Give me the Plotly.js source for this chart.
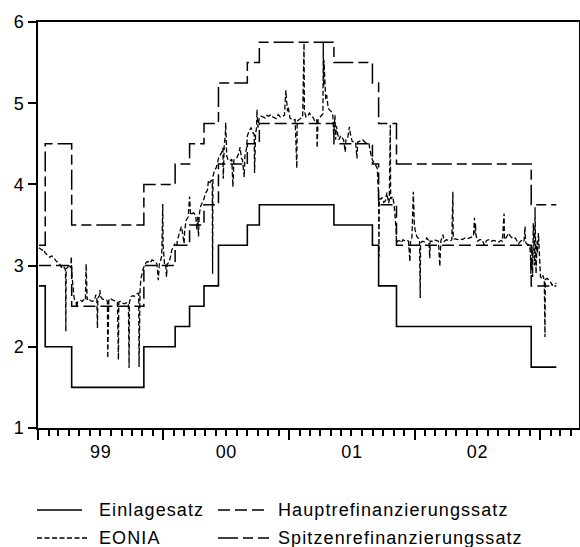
<!DOCTYPE html>
<html><head><meta charset="utf-8">
<script src="https://cdn.plot.ly/plotly-3.0.1.min.js"></script>
<style>
html,body{margin:0;padding:0;background:#fff;}
#chart{width:580px;height:547px;}
.annotation-text{letter-spacing:1.1px;}
.xtick text,.ytick text{letter-spacing:0.6px;}
</style></head><body><div id="chart"></div>
<script>
// ---- Data ----
var seriesNames = ["Einlagesatz", "Hauptrefinanzierungssatz", "EONIA", "Spitzenrefinanzierungssatz"];

var stepDates = ["1999-01-04","1999-01-22","1999-04-09","1999-11-05","2000-02-04","2000-03-17","2000-04-28","2000-06-09","2000-09-01","2000-10-06","2001-05-11","2001-08-31","2001-09-18","2001-11-09","2002-12-06","2003-02-17"];
var einlagesatz = [2.75,2.00,1.50,2.00,2.25,2.50,2.75,3.25,3.50,3.75,3.50,3.25,2.75,2.25,1.75,1.75];
var hauptrefi   = [3.00,3.00,2.50,3.00,3.25,3.50,3.75,4.25,4.50,4.75,4.50,4.25,3.75,3.25,2.75,2.75];
var spitzenrefi = [3.25,4.50,3.50,4.00,4.25,4.50,4.75,5.25,5.50,5.75,5.50,5.25,4.75,4.25,3.75,3.75];

var eoniaDates = [
"1999-01-04","1999-01-08","1999-01-13","1999-01-18","1999-01-21","1999-01-26","1999-02-01","1999-02-05","1999-02-10","1999-02-15","1999-02-19","1999-02-24",
"1999-03-01","1999-03-05","1999-03-10","1999-03-15","1999-03-19","1999-03-22","1999-03-23","1999-03-24","1999-03-29","1999-04-01","1999-04-06","1999-04-08",
"1999-04-09","1999-04-12","1999-04-14","1999-04-16","1999-04-20","1999-04-22","1999-04-23","1999-04-26","1999-04-30","1999-05-05","1999-05-10","1999-05-14",
"1999-05-19","1999-05-21","1999-05-24","1999-05-28","1999-06-02","1999-06-08","1999-06-14","1999-06-18","1999-06-21","1999-06-23","1999-06-24","1999-06-29",
"1999-06-30","1999-07-02","1999-07-07","1999-07-13","1999-07-19","1999-07-22","1999-07-23","1999-07-26","1999-07-30","1999-08-04","1999-08-10","1999-08-16",
"1999-08-20","1999-08-23","1999-08-24","1999-08-30","1999-09-03","1999-09-09","1999-09-15","1999-09-21","1999-09-23","1999-09-24","1999-09-29","1999-10-04",
"1999-10-08","1999-10-13","1999-10-19","1999-10-21","1999-10-22","1999-10-25","1999-10-28","1999-11-01","1999-11-04","1999-11-08","1999-11-12","1999-11-17",
"1999-11-23","1999-11-29","1999-12-03","1999-12-08","1999-12-13","1999-12-17","1999-12-20","1999-12-23","1999-12-27","1999-12-30","1999-12-31",
"2000-01-04","2000-01-07","2000-01-10","2000-01-12","2000-01-17","2000-01-21","2000-01-25","2000-01-31","2000-02-03","2000-02-04","2000-02-08","2000-02-11",
"2000-02-17","2000-02-22","2000-02-25","2000-03-01","2000-03-03","2000-03-07","2000-03-13","2000-03-17","2000-03-20","2000-03-24","2000-03-29","2000-04-04",
"2000-04-07","2000-04-10","2000-04-12","2000-04-14","2000-04-18","2000-04-24","2000-04-27","2000-05-02","2000-05-08","2000-05-11","2000-05-16","2000-05-19",
"2000-05-22","2000-05-23","2000-05-24","2000-05-29","2000-06-02","2000-06-06","2000-06-09","2000-06-14","2000-06-19","2000-06-22","2000-06-23","2000-06-26",
"2000-06-29","2000-06-30","2000-07-03","2000-07-07","2000-07-12","2000-07-18","2000-07-21","2000-07-24","2000-07-28","2000-08-02","2000-08-08","2000-08-11",
"2000-08-15","2000-08-18","2000-08-23","2000-08-25","2000-08-30","2000-09-01","2000-09-06","2000-09-12","2000-09-18","2000-09-21","2000-09-22","2000-09-25",
"2000-09-28","2000-09-29","2000-10-02","2000-10-06","2000-10-11","2000-10-17","2000-10-23","2000-10-27","2000-11-02","2000-11-08","2000-11-14","2000-11-20",
"2000-11-24","2000-11-30","2000-12-06","2000-12-12","2000-12-18","2000-12-22","2000-12-27","2000-12-29",
"2001-01-03","2001-01-08","2001-01-12","2001-01-18","2001-01-23","2001-01-24","2001-01-30","2001-02-05","2001-02-09","2001-02-13","2001-02-14","2001-02-19",
"2001-02-23","2001-03-01","2001-03-06","2001-03-12","2001-03-16","2001-03-22","2001-03-23","2001-03-26","2001-03-30","2001-04-04","2001-04-09","2001-04-10",
"2001-04-11","2001-04-12","2001-04-17","2001-04-20","2001-04-24","2001-04-27","2001-05-03","2001-05-08","2001-05-10","2001-05-11","2001-05-14","2001-05-16",
"2001-05-18","2001-05-22","2001-05-25","2001-05-31","2001-06-05","2001-06-08","2001-06-13","2001-06-15","2001-06-20","2001-06-25","2001-06-28","2001-07-03",
"2001-07-09","2001-07-13","2001-07-17","2001-07-19","2001-07-24","2001-07-30","2001-08-03","2001-08-09","2001-08-15","2001-08-21","2001-08-24","2001-08-28",
"2001-08-31","2001-09-05","2001-09-10","2001-09-14","2001-09-17","2001-09-18","2001-09-19","2001-09-20","2001-09-25","2001-09-28","2001-10-03","2001-10-08",
"2001-10-12","2001-10-17","2001-10-19","2001-10-22","2001-10-23","2001-10-29","2001-11-02","2001-11-06","2001-11-08","2001-11-09","2001-11-14","2001-11-20",
"2001-11-23","2001-11-28","2001-12-04","2001-12-10","2001-12-14","2001-12-18","2001-12-20","2001-12-24","2001-12-28","2001-12-31",
"2002-01-02","2002-01-07","2002-01-11","2002-01-15","2002-01-17","2002-01-18","2002-01-24","2002-01-30","2002-02-05","2002-02-11","2002-02-14","2002-02-15",
"2002-02-20","2002-02-26","2002-03-04","2002-03-11","2002-03-15","2002-03-18","2002-03-24","2002-03-28","2002-04-03","2002-04-09","2002-04-15","2002-04-19",
"2002-04-22","2002-04-23","2002-04-29","2002-05-06","2002-05-13","2002-05-20","2002-05-27","2002-06-03","2002-06-10","2002-06-17","2002-06-21","2002-06-24",
"2002-06-25","2002-06-27","2002-06-28","2002-07-03","2002-07-09","2002-07-16","2002-07-23","2002-07-29","2002-08-05","2002-08-12","2002-08-20","2002-08-27",
"2002-09-02","2002-09-09","2002-09-13","2002-09-18","2002-09-19","2002-09-25","2002-10-01","2002-10-07","2002-10-14","2002-10-21","2002-10-25","2002-10-30",
"2002-11-05","2002-11-11","2002-11-15","2002-11-18","2002-11-19","2002-11-22","2002-11-27","2002-12-02","2002-12-04","2002-12-05","2002-12-06","2002-12-09",
"2002-12-10","2002-12-12","2002-12-16","2002-12-17","2002-12-18","2002-12-19","2002-12-20","2002-12-23","2002-12-24","2002-12-27","2002-12-30","2002-12-31",
"2003-01-02","2003-01-06","2003-01-09","2003-01-13","2003-01-15","2003-01-16","2003-01-22","2003-01-27","2003-01-31","2003-02-05","2003-02-10","2003-02-17"
];
var eoniaValues = [
3.22,3.21,3.19,3.20,3.16,3.14,3.12,3.10,3.12,3.10,3.08,3.05,
3.04,3.02,2.98,3.00,2.97,2.95,2.19,2.96,2.98,3.02,2.97,3.11,
2.92,2.78,2.66,2.60,2.56,2.55,2.48,2.55,2.56,2.57,2.56,2.58,
2.57,3.02,2.58,2.60,2.57,2.56,2.57,2.64,2.61,2.23,2.60,2.63,
2.70,2.62,2.59,2.58,2.58,2.56,1.86,2.57,2.60,2.58,2.57,2.56,
2.55,1.84,2.55,2.56,2.54,2.53,2.54,2.54,1.74,2.55,2.62,2.63,
2.62,2.65,2.66,2.66,1.75,2.72,2.85,2.95,2.97,3.01,3.04,3.05,
3.03,3.07,3.06,3.05,3.02,2.82,3.02,3.05,3.12,3.76,3.25,
3.02,3.03,2.86,3.02,3.04,3.10,3.19,3.24,3.27,3.25,3.23,3.32,
3.40,3.48,3.42,3.27,3.44,3.56,3.60,3.85,3.62,3.64,3.65,3.62,
3.44,3.60,3.36,3.62,3.73,3.78,3.81,3.89,3.93,4.05,4.02,4.05,
4.04,2.90,4.10,4.18,4.20,4.26,4.32,4.36,4.40,4.45,4.07,4.50,
4.60,4.76,4.35,4.30,4.29,4.31,3.97,4.30,4.31,4.33,4.39,4.46,
4.32,4.30,4.09,4.35,4.45,4.60,4.65,4.70,4.63,4.62,4.14,4.62,
4.70,4.92,4.70,4.83,4.84,4.83,4.82,4.85,4.84,4.86,4.83,4.82,
4.81,4.86,4.83,4.84,4.85,5.16,4.90,4.95,
4.82,4.80,4.79,4.80,4.20,4.78,4.80,4.81,4.83,5.74,4.90,4.83,
4.84,4.88,4.84,4.82,4.78,4.80,4.45,4.80,4.82,4.85,4.87,5.74,
5.20,5.53,5.05,5.10,4.95,4.92,4.90,4.85,4.62,4.65,4.85,4.55,
4.72,4.60,4.55,4.60,4.56,4.55,4.40,4.55,4.57,4.71,4.62,4.53,
4.52,4.52,4.32,4.52,4.53,4.54,4.55,4.52,4.51,4.50,4.42,4.35,
4.30,4.27,4.22,4.20,3.95,3.80,3.11,3.82,3.82,3.84,3.78,3.80,
3.90,3.77,3.80,4.73,3.82,3.85,3.75,3.55,3.44,3.28,3.31,3.30,
3.28,3.32,3.30,3.31,3.30,3.05,3.30,3.35,3.91,3.50,
3.44,3.36,3.34,3.32,2.60,3.28,3.30,3.29,3.34,3.31,3.09,3.30,
3.30,3.32,3.31,3.30,2.99,3.30,3.38,3.30,3.32,3.31,3.30,3.32,
3.91,3.33,3.33,3.32,3.33,3.32,3.34,3.33,3.34,3.35,3.36,3.59,
3.40,3.52,3.38,3.30,3.32,3.32,3.25,3.31,3.32,3.30,3.31,3.30,
3.29,3.31,3.30,3.64,3.32,3.35,3.40,3.36,3.33,3.34,3.30,3.27,
3.30,3.32,3.30,3.48,3.30,3.27,3.26,3.22,3.11,2.90,3.05,3.20,
2.86,3.52,3.00,3.72,2.95,3.45,2.90,3.30,3.15,3.40,3.00,2.92,
2.86,2.84,2.88,2.82,2.12,2.83,2.84,2.82,2.80,2.76,2.78,2.78
];

var yTicks = [1,2,3,4,5,6];

// ---- Layout constants ----
var W = 580, H = 547;
var M = {l:38, r:1, t:22, b:119};
var PW = W - M.l - M.r, PH = H - M.t - M.b;
function px(x){ return (x - M.l) / PW; }
function py(y){ return (H - M.b - y) / PH; }

var FONT = 'Liberation Sans, Arial, sans-serif';
var styles = [
  {width:1.6, dash:'solid'},
  {width:1.5, dash:'12px,5px'},
  {width:1.3, dash:'5px,2.5px'},
  {width:1.5, dash:'20px,5px,10px,5px'}
];

var traces = [
  {x:stepDates, y:einlagesatz, name:seriesNames[0], type:'scatter', mode:'lines', line:{color:'#000', width:styles[0].width, dash:styles[0].dash, shape:'hv'}},
  {x:stepDates, y:hauptrefi, name:seriesNames[1], type:'scatter', mode:'lines', line:{color:'#000', width:styles[1].width, dash:styles[1].dash, shape:'hv'}},
  {x:eoniaDates, y:eoniaValues, name:seriesNames[2], type:'scatter', mode:'lines', line:{color:'#000', width:styles[2].width, dash:styles[2].dash}},
  {x:stepDates, y:spitzenrefi, name:seriesNames[3], type:'scatter', mode:'lines', line:{color:'#000', width:styles[3].width, dash:styles[3].dash, shape:'hv'}}
];

// Manual legend (2 columns, row-wise)
var legendItems = [
  {i:0, x0:37, x1:82,  tx:97,  y:510},
  {i:1, x0:218, x1:269, tx:276, y:510},
  {i:2, x0:37, x1:88,  tx:97,  y:538},
  {i:3, x0:218, x1:269, tx:276, y:538}
];
var shapes = [], annotations = [];
legendItems.forEach(function(it){
  shapes.push({type:'line', xref:'paper', yref:'paper', x0:px(it.x0), x1:px(it.x1), y0:py(it.y), y1:py(it.y),
    line:{color:'#000', width:styles[it.i].width, dash:styles[it.i].dash}});
  annotations.push({xref:'paper', yref:'paper', x:px(it.tx), y:py(it.y), xanchor:'left', yanchor:'middle',
    text:seriesNames[it.i], showarrow:false, font:{family:FONT, size:18, color:'#000'}});
});

var layout = {
  width:W, height:H, margin:M, showlegend:false,
  paper_bgcolor:'#fff', plot_bgcolor:'#fff',
  xaxis:{type:'date', range:['1999-01-01','2003-04-24'], showline:true, linewidth:2, linecolor:'#000', mirror:true,
    ticks:'outside', ticklen:10, tickwidth:2, tickcolor:'#000', dtick:'M12', tick0:'1999-01-01', tickformat:'%y',
    ticklabelmode:'period', ticklabelstandoff:-4, showgrid:false, zeroline:false,
    minor:{ticks:'outside', ticklen:6, tickwidth:2, tickcolor:'#000', dtick:'M1', tick0:'1999-01-01', showgrid:false},
    tickfont:{family:FONT, size:18, color:'#000'}},
  yaxis:{range:[1,6], tickvals:yTicks, ticktext:yTicks.map(String), ticks:'outside', ticklen:8, tickwidth:2, tickcolor:'#000',
    showline:true, linewidth:2, linecolor:'#000', mirror:true, showgrid:false, zeroline:false,
    tickfont:{family:FONT, size:18, color:'#000'}},
  shapes:shapes, annotations:annotations
};

Plotly.newPlot('chart', traces, layout, {staticPlot:true, displayModeBar:false});
</script></body></html>
